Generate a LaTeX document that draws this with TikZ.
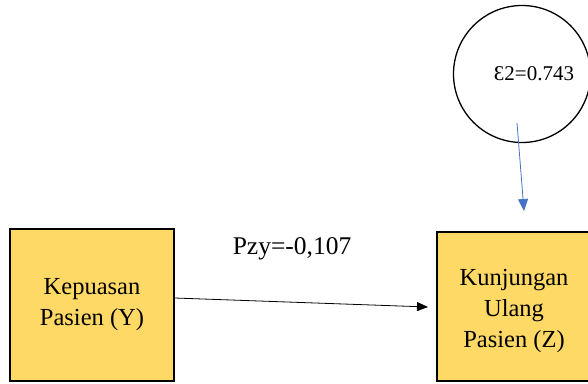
\documentclass[tikz,border=0pt]{standalone}
\usepackage{fontspec}
\setmainfont{Liberation Serif}
\usetikzlibrary{arrows.meta,calc}
\definecolor{boxfill}{HTML}{FFD966}
\definecolor{arrowblue}{HTML}{4472C4}
\tikzset{
  varbox/.style={draw=black, line width=1.4pt, fill=boxfill, align=center,
    font=\fontsize{24.5}{31}\selectfont, inner sep=0pt},
  errcirc/.style={draw=black, line width=1.3pt, circle, inner sep=0pt},
  pathlabel/.style={font=\fontsize{25.5}{28}\selectfont, inner sep=0pt},
}
\begin{document}
\begin{tikzpicture}[x=1pt,y=-1pt]
\useasboundingbox (0,0) rectangle (588,383);
\node[varbox, minimum width=164pt, minimum height=152pt] (Y) at (92,305) {Kepuasan\\Pasien (Y)};
\node[varbox, minimum width=158pt, minimum height=149pt] (Z) at (516,306.5) {};
\node[align=center, font=\fontsize{24.5}{31}\selectfont, inner sep=0pt] (Zt) at (514,311) {Kunjungan\\Ulang\\Pasien (Z)};
\node[errcirc, minimum size=137pt] (E) at (522,74) {};
\node[font=\fontsize{21}{25}\selectfont, inner sep=0pt] (Et) at (534,74) {Ɛ2=0.743};
\node[pathlabel] (P) at (292,249) {Pzy=-0,107};
\coordinate (tipZ) at (428,307);
\coordinate (sE) at (517,123);
\coordinate (tipE) at (524,211);
\draw[line width=0.8pt, -{Triangle[length=11pt,width=9pt]}] ($(Y.east)+(0,-7)$) -- (tipZ);
\draw[arrowblue, line width=0.8pt, -{Triangle[length=12pt,width=10pt]}] (sE) -- (tipE);
\end{tikzpicture}
\end{document}
